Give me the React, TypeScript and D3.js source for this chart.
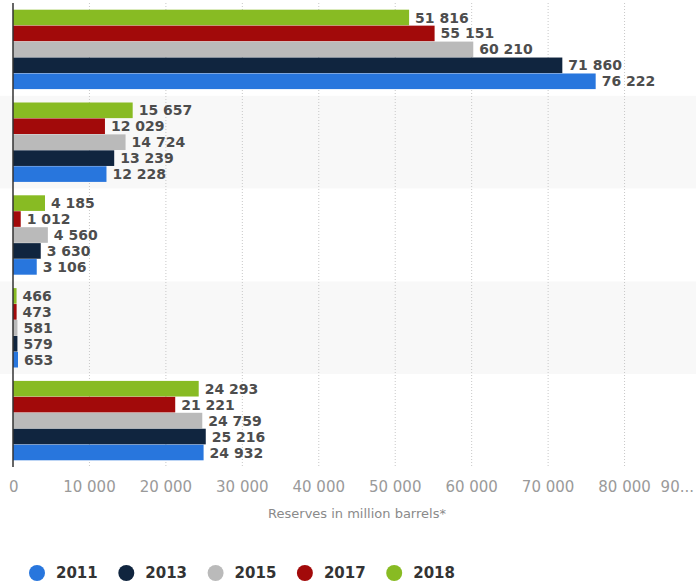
import React from 'react';
import * as d3 from 'd3';

const categories = ['Group A', 'Group B', 'Group C', 'Group D', 'Group E'];
const years = ['2011', '2013', '2015', '2017', '2018'];
const yearColors = ['#2876dd', '#10253f', '#bababa', '#a20a0a', '#88bb23'];
// values per year, in category order
const v2011 = [76222, 12228, 3106, 653, 24932];
const v2013 = [71860, 13239, 3630, 579, 25216];
const v2015 = [60210, 14724, 4560, 581, 24759];
const v2017 = [55151, 12029, 1012, 473, 21221];
const v2018 = [51816, 15657, 4185, 466, 24293];
const xTicks = [0, 10000, 20000, 30000, 40000, 50000, 60000, 70000, 80000, 90000];

const W = 696, H = 583;
const m = {top: 3, left: 13, right: -5, bottom: 116};

const fmt = (v: number) => d3.format(',')(v).replace(/,/g, ' ');

export default function App() {
  const series = [v2011, v2013, v2015, v2017, v2018];
  // bars drawn top-to-bottom: newest year first
  const order = ['2018', '2017', '2015', '2013', '2011'];

  const x = d3.scaleLinear().domain([0, 90000]).range([m.left, W - m.right]);
  const y = d3.scaleBand().domain(categories).range([m.top, H - m.bottom]);
  const yi = d3.scaleBand().domain(order).range([0, y.bandwidth()]).paddingOuter(0.42).paddingInner(0.02);

  const bottom = H - m.bottom;

  return (
    <svg width={W} height={H} style={{position: 'absolute', left: 0, top: 0, background: '#fff'}}
         fontFamily="'DejaVu Sans', Verdana, sans-serif">
      {categories.map((c, i) =>
        <rect key={c} x={0} y={y(c)} width={W} height={y.bandwidth()} fill={i % 2 ? '#f8f8f8' : '#fff'} />
      )}
      {xTicks.slice(1).map(t =>
        <line key={t} x1={x(t)} x2={x(t)} y1={m.top} y2={bottom} stroke="#c8c8c8" strokeDasharray="1,2" />
      )}
      {categories.map((c, ci) =>
        <g key={c} transform={`translate(0,${y(c)})`}>
          {order.map(yr => {
            const si = years.indexOf(yr);
            const v = series[si][ci];
            const by = yi(yr)!;
            return (
              <g key={yr}>
                <rect x={x(0)} y={by} width={x(v) - x(0)} height={yi.bandwidth()} fill={yearColors[si]} />
                <text x={x(v) + 6} y={by + yi.bandwidth() / 2} dy="0.36em" fontSize={14}
                      fontWeight="bold" fill="#4d4d4d">{fmt(v)}</text>
              </g>
            );
          })}
        </g>
      )}
      <line x1={x(0)} x2={x(0)} y1={m.top} y2={bottom} stroke="#333" strokeWidth={1.5} />
      {xTicks.map(t => {
        const last = t === 90000;
        return (
          <text key={t} x={last ? W - 2 : x(t)} y={bottom + 25}
                textAnchor={t === 0 ? 'start' : last ? 'end' : 'middle'} dx={t === 0 ? -4 : 0}
                fontSize={15} fill="#9a9a9a">{last ? '90...' : fmt(t)}</text>
        );
      })}
      <text x={(x(0) + x(90000)) / 2} y={bottom + 51} textAnchor="middle" fontSize={13} fill="#8a8a8a">
        Reserves in million barrels*
      </text>
      {years.map((yr, i) => {
        const lx = 37 + i * 89.3;
        return (
          <g key={yr} transform={`translate(${lx},${H - 10})`}>
            <circle r={8} fill={yearColors[i]} />
            <text x={19} dy="0.36em" fontSize={15} fontWeight="bold" fill="#333">{yr}</text>
          </g>
        );
      })}
    </svg>
  );
}
